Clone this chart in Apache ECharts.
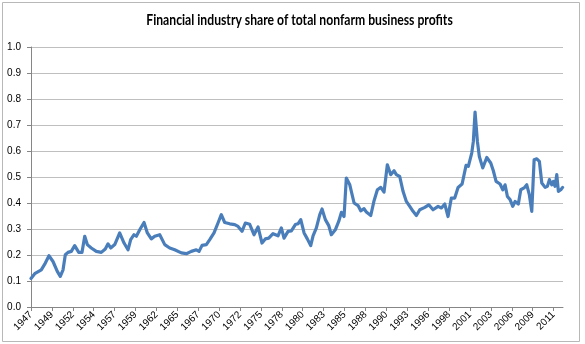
<!DOCTYPE html>
<html>
<head>
<meta charset="utf-8">
<script src="https://cdn.jsdelivr.net/npm/echarts@6/dist/echarts.min.js"></script>
<style>
  html, body { margin: 0; padding: 0; background: #ffffff; }
  #chart { width: 585px; height: 344px; }
</style>
</head>
<body>
<div id="chart"></div>
<script>
// Title
const chartTitle = "Financial industry share of total nonfarm business profits";

const years = [
  1947.0, 1947.46, 1948.27, 1948.77, 1949.22, 1949.72, 1950.25, 1950.62, 1950.96, 1951.24,
  1951.57, 1951.98, 1952.4, 1952.9, 1953.3, 1953.64, 1953.96, 1954.45, 1955.07, 1955.69,
  1956.18, 1956.52, 1956.85, 1957.35, 1957.96, 1958.5, 1958.99, 1959.32, 1959.73, 1960.02,
  1960.44, 1960.63, 1960.97, 1961.38, 1961.87, 1962.29, 1962.91, 1963.53, 1964.14, 1964.76,
  1965.58, 1966.2, 1966.81, 1967.43, 1967.77, 1968.14, 1968.67, 1969.09, 1969.62, 1970.11,
  1970.52, 1970.94, 1971.56, 1972.18, 1972.59, 1973.08, 1973.49, 1974.03, 1974.56, 1975.06,
  1975.55, 1975.96, 1976.38, 1976.91, 1977.53, 1977.94, 1978.27, 1978.77, 1979.18, 1979.67,
  1980.0, 1980.34, 1980.75, 1981.15, 1981.57, 1981.86, 1982.27, 1982.69, 1982.97, 1983.38,
  1983.8, 1984.12, 1984.61, 1985.03, 1985.36, 1985.69, 1985.97, 1986.4, 1986.93, 1987.42,
  1987.75, 1988.16, 1988.45, 1988.99, 1989.4, 1989.81, 1990.23, 1990.63, 1991.04, 1991.46,
  1991.87, 1992.15, 1992.57, 1992.98, 1993.39, 1993.81, 1994.22, 1994.63, 1995.05, 1995.67,
  1996.16, 1996.69, 1997.31, 1997.72, 1998.14, 1998.54, 1998.95, 1999.37, 1999.78, 2000.28,
  2000.77, 2001.05, 2001.47, 2001.67, 2001.88, 2002.17, 2002.41, 2002.83, 2003.33, 2003.82,
  2004.14, 2004.48, 2004.97, 2005.31, 2005.59, 2005.88, 2006.21, 2006.54, 2006.83, 2007.23,
  2007.53, 2007.94, 2008.27, 2008.59, 2008.89, 2009.18, 2009.51, 2009.83, 2010.13, 2010.54,
  2010.82, 2011.07, 2011.36, 2011.56, 2011.77, 2011.98, 2012.18, 2012.48, 2012.7
];
const shares = [
  0.110, 0.128, 0.143, 0.169, 0.197, 0.175, 0.137, 0.118, 0.143, 0.201,
  0.210, 0.214, 0.236, 0.210, 0.210, 0.272, 0.240, 0.227, 0.214, 0.210,
  0.223, 0.243, 0.227, 0.240, 0.285, 0.246, 0.220, 0.259, 0.278, 0.272,
  0.297, 0.300, 0.325, 0.285, 0.262, 0.272, 0.278, 0.240, 0.227, 0.220,
  0.208, 0.205, 0.214, 0.220, 0.214, 0.237, 0.240, 0.259, 0.285, 0.323,
  0.355, 0.325, 0.320, 0.317, 0.310, 0.291, 0.323, 0.318, 0.278, 0.308,
  0.246, 0.262, 0.265, 0.282, 0.274, 0.304, 0.265, 0.291, 0.293, 0.317,
  0.320, 0.336, 0.285, 0.262, 0.236, 0.274, 0.304, 0.355, 0.377, 0.336,
  0.313, 0.278, 0.297, 0.329, 0.364, 0.348, 0.496, 0.470, 0.400, 0.390,
  0.370, 0.378, 0.365, 0.352, 0.409, 0.451, 0.460, 0.442, 0.547, 0.509,
  0.524, 0.509, 0.502, 0.445, 0.406, 0.387, 0.368, 0.352, 0.374, 0.383,
  0.393, 0.374, 0.387, 0.381, 0.396, 0.348, 0.419, 0.419, 0.460, 0.473,
  0.545, 0.541, 0.592, 0.637, 0.750, 0.637, 0.579, 0.535, 0.575, 0.554,
  0.524, 0.483, 0.473, 0.451, 0.470, 0.425, 0.413, 0.387, 0.406, 0.396,
  0.451, 0.458, 0.470, 0.432, 0.368, 0.566, 0.570, 0.560, 0.477, 0.460,
  0.464, 0.490, 0.470, 0.483, 0.464, 0.509, 0.445, 0.451, 0.460
];

// Axis tick labels
const startYear = 1947;
const xTickLabels = ["1947","1949","1952","1954","1957","1959","1962","1965","1967","1970",
  "1972","1975","1978","1980","1983","1985","1988","1990","1993","1996",
  "1998","2001","2003","2006","2009","2011"];
const yTickLabels = ["0.0","0.1","0.2","0.3","0.4","0.5","0.6","0.7","0.8","0.9","1.0"];

const MONTHS_PER_TICK = 31;
const seriesData = years.map((y, i) => [(y - startYear) * 12, shares[i]]);

const chart = echarts.init(document.getElementById('chart'), null, { renderer: 'canvas' });
const labelFont = '"Liberation Sans", Arial, sans-serif';

chart.setOption({
  animation: false,
  backgroundColor: '#ffffff',
  graphic: [{
    type: 'rect',
    shape: { x: 2.5, y: 2.5, width: 577, height: 339 },
    style: { fill: 'none', stroke: '#b8b8b8', lineWidth: 1 },
    silent: true, z: -1
  }, {
    type: 'text',
    x: 299.5,
    y: 20.5,
    scaleX: 0.84,
    silent: true,
    style: {
      text: chartTitle,
      fill: '#000000',
      font: 'bold 14.5px Lato, "Liberation Sans", sans-serif',
      align: 'center',
      verticalAlign: 'middle'
    }
  }],
  grid: { left: 31, right: 22, top: 47, bottom: 37, containLabel: false },
  xAxis: {
    type: 'value',
    min: 0,
    max: 789,
    interval: MONTHS_PER_TICK,
    splitLine: { show: false },
    axisLine: { show: true, lineStyle: { color: '#868686', width: 1 } },
    axisTick: { show: true, length: 4, lineStyle: { color: '#868686' } },
    axisLabel: {
      rotate: 45,
      margin: 6,
      fontSize: 10,
      fontFamily: labelFont,
      color: '#000000',
      showMaxLabel: false,
      formatter: function (v) {
        const idx = Math.round(v / MONTHS_PER_TICK);
        return xTickLabels[idx] !== undefined && Math.abs(v - idx * MONTHS_PER_TICK) < 1e-6 ? xTickLabels[idx] : '';
      }
    }
  },
  yAxis: {
    type: 'value',
    min: 0,
    max: 1,
    interval: 0.1,
    splitLine: { show: true, lineStyle: { color: '#bfbfbf', width: 1 } },
    axisLine: { show: true, lineStyle: { color: '#868686', width: 1 } },
    axisTick: { show: true, length: 4, lineStyle: { color: '#868686' } },
    axisLabel: {
      margin: 10,
      fontSize: 10,
      fontFamily: labelFont,
      color: '#000000',
      formatter: function (v) { return yTickLabels[Math.round(v * 10)]; }
    }
  },
  series: [{
    type: 'line',
    data: seriesData,
    showSymbol: false,
    smooth: false,
    lineStyle: { color: '#4a7ebb', width: 3.2, join: 'round', cap: 'round' },
    itemStyle: { color: '#4a7ebb' }
  }]
});
</script>
</body>
</html>
